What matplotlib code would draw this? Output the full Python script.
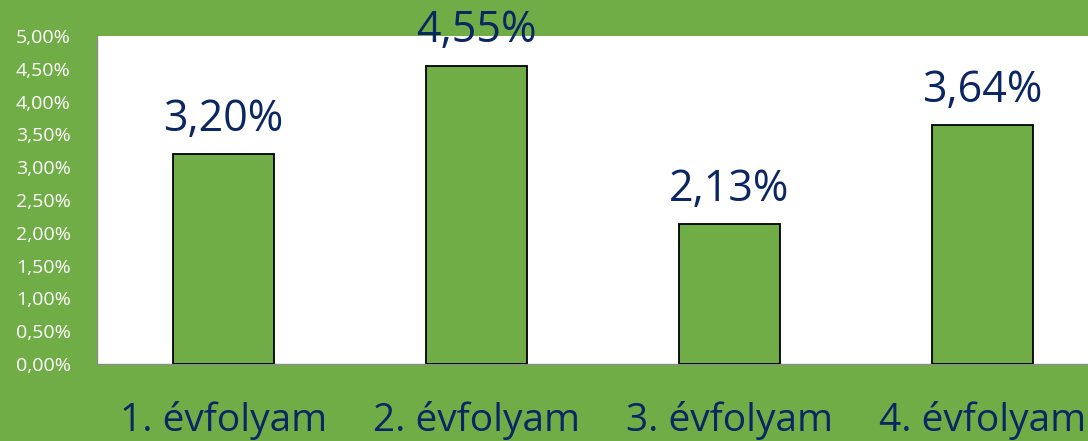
import matplotlib
matplotlib.use("Agg")
import matplotlib.pyplot as plt
from matplotlib.ticker import FuncFormatter

categories = ["1. évfolyam", "2. évfolyam", "3. évfolyam", "4. évfolyam"]
values = [3.20, 4.55, 2.13, 3.64]
yticks = [0, 0.5, 1.0, 1.5, 2.0, 2.5, 3.0, 3.5, 4.0, 4.5, 5.0]

GREEN = "#70AD47"
NAVY = "#0A2663"

plt.rcParams['font.family'] = ['Open Sans', 'DejaVu Sans']

W, H = 1088, 441
fig = plt.figure(figsize=(W / 100, H / 100), dpi=100, facecolor=GREEN)
ax = fig.add_axes([97 / W, 77 / H, 1012 / W, 328 / H])
ax.set_facecolor("white")

x = range(len(categories))
ax.bar(x, values, width=0.4, color=GREEN, edgecolor="black", linewidth=1.3, zorder=3)

for xi, v in zip(x, values):
    ax.annotate(f"{v:.2f}%".replace(".", ","), (xi, v), xytext=(0, 9),
                textcoords="offset points", ha="center", va="bottom",
                fontsize=31, color=NAVY, annotation_clip=False, zorder=4)

ax.set_xlim(-0.5, 3.5)
ax.set_ylim(0, 5)
ax.set_yticks(yticks)
ax.yaxis.set_major_formatter(FuncFormatter(lambda v, p: f"{v:.2f}%".replace(".", ",")))
ax.tick_params(axis="y", length=0, labelsize=14, labelcolor="white", pad=19)
ax.set_xticks(list(x))
ax.set_xticklabels(categories)
ax.tick_params(axis="x", length=0, labelsize=28, labelcolor=NAVY, pad=27)

for s in ["top", "right"]:
    ax.spines[s].set_visible(False)
for s in ["left", "bottom"]:
    ax.spines[s].set_color("#8C8C8C")
    ax.spines[s].set_linewidth(1)

fig.savefig("out.png", dpi=100, facecolor=GREEN)
